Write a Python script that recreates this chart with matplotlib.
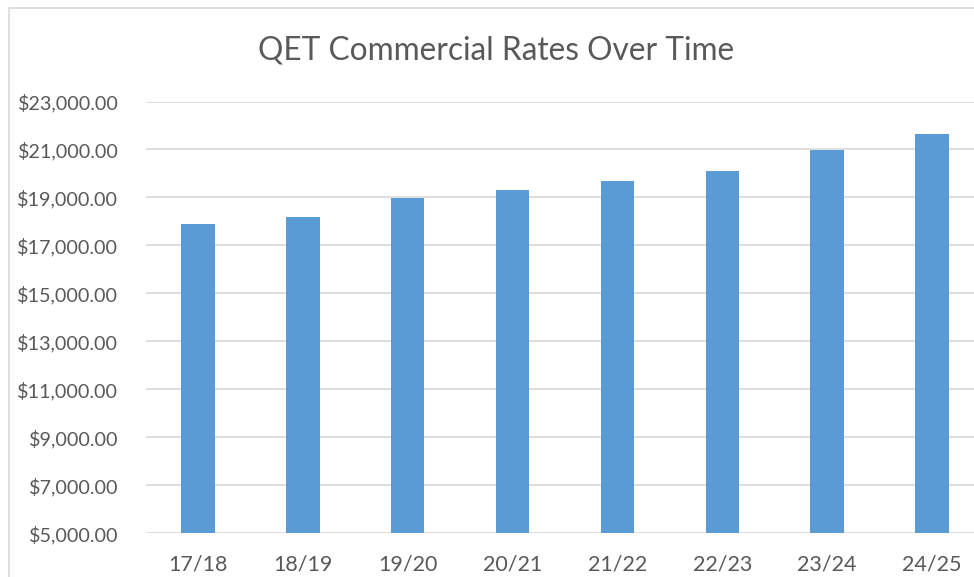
import matplotlib.pyplot as plt
from matplotlib.ticker import FuncFormatter
from matplotlib.patches import Rectangle

# Data
years = ['17/18', '18/19', '19/20', '20/21', '21/22', '22/23', '23/24', '24/25']
rates = [17880, 18200, 18990, 19300, 19700, 20090, 20960, 21660]
y_ticks = [5000, 7000, 9000, 11000, 13000, 15000, 17000, 19000, 21000, 23000]

plt.rcParams['font.family'] = ['Lato', 'DejaVu Sans']
text_color = '#595959'
grid_color = '#D9D9D9'
bar_color = '#5B9BD5'

fig = plt.figure(figsize=(9.74, 5.77), dpi=100)
# outer chart border
fig.patches.append(Rectangle((9 / 974, -0.01), 1.0, 1.01 - 8 / 577, transform=fig.transFigure,
                             fill=False, edgecolor=grid_color, linewidth=1.2))

ax = fig.add_axes([145.5 / 974, (577 - 533.3) / 577, 839 / 974, (533.3 - 101.5) / 577])
ax.bar(range(len(years)), rates, width=0.32, color=bar_color, zorder=3)

ax.set_xlim(-0.5, len(years) - 0.5)
ax.set_ylim(y_ticks[0], y_ticks[-1])
ax.set_yticks(y_ticks)
ax.yaxis.set_major_formatter(FuncFormatter(lambda v, p: f'${v:,.2f}'))
ax.set_xticks(range(len(years)))
ax.set_xticklabels(years)

ax.grid(axis='y', color=grid_color, linewidth=1.2, zorder=0)
for s in ax.spines.values():
    s.set_visible(False)
ax.tick_params(axis='both', length=0, colors=text_color)
ax.tick_params(axis='y', pad=19.5, labelsize=14.2)
ax.tick_params(axis='x', pad=15, labelsize=15.5)

fig.text(496 / 974, 1 - 50 / 577, 'QET Commercial Rates Over Time', ha='center', va='center',
         fontsize=22.8, color=text_color)

fig.savefig('out.png', dpi=100)
